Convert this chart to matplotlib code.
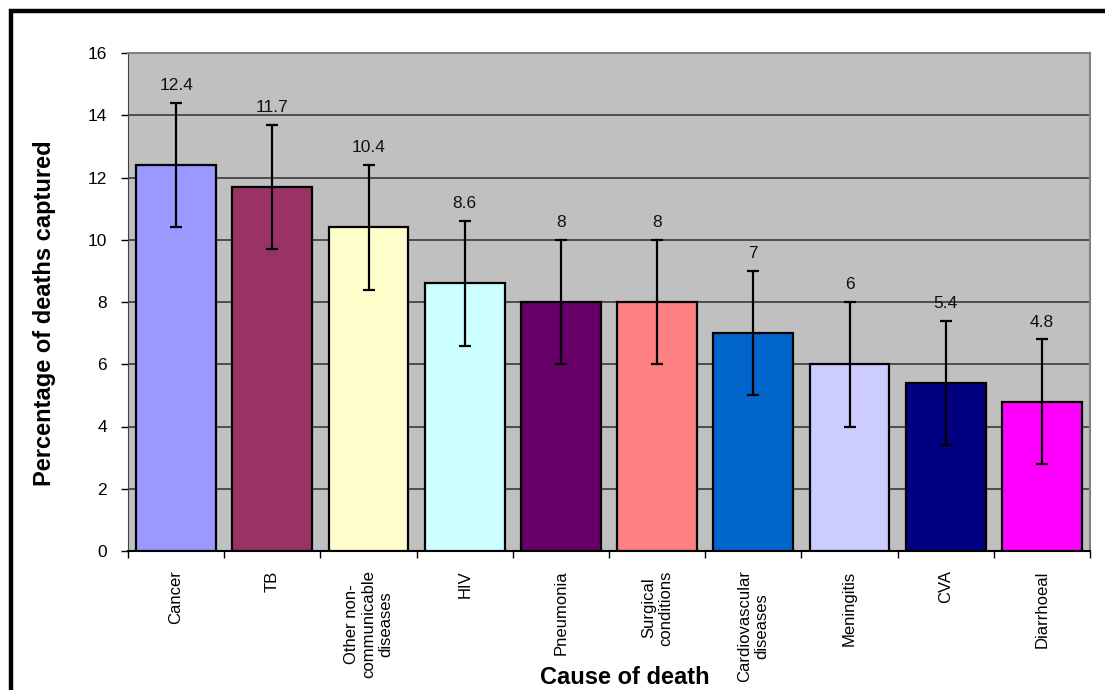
import matplotlib
matplotlib.use('Agg')
import matplotlib.pyplot as plt
from matplotlib.patches import Rectangle

plt.rcParams['font.family'] = ['Liberation Sans', 'DejaVu Sans']

causes = ['Cancer', 'TB', 'Other non-\ncommunicable\ndiseases', 'HIV', 'Pneumonia',
          'Surgical\nconditions', 'Cardiovascular\ndiseases', 'Meningitis', 'CVA', 'Diarrhoeal']
percent = [12.4, 11.7, 10.4, 8.6, 8, 8, 7, 6, 5.4, 4.8]
err = [2, 2, 2, 2, 2, 2, 2, 2, 2, 2]
colors = ['#9999FF', '#993366', '#FFFFCC', '#CCFFFF', '#660066',
          '#FF8080', '#0066CC', '#CCCCFF', '#000080', '#FF00FF']

fig = plt.figure(figsize=(11.05, 6.9), dpi=100)
ax = fig.add_axes([128/1105, 1-551/690, (1090-128)/1105, (551-53)/690])
ax.set_facecolor('#C0C0C0')

x = list(range(len(causes)))
ax.bar(x, percent, width=0.83, color=colors, edgecolor='black', linewidth=1.6, zorder=3)
ax.errorbar(x, percent, yerr=err, fmt='none', ecolor='black', elinewidth=1.6,
            capsize=4.5, capthick=1.6, zorder=4)

for xi, v, e in zip(x, percent, err):
    ax.annotate(f'{v:g}', (xi, v + e), xytext=(0, 7), textcoords='offset points',
                ha='center', va='bottom', fontsize=12.5, color='#111111')

ax.set_xlim(-0.5, len(causes) - 0.5)
ax.set_ylim(0, 16)
ax.set_yticks(range(0, 17, 2))
ax.yaxis.grid(True, color='#3a3a3a', linewidth=1.2, zorder=0)
ax.set_axisbelow(True)

ax.set_xticks(x)
ax.set_xticklabels(causes, rotation=90, fontsize=12, ha='center', va='top',
                   multialignment='center')
ax.set_xticks([i - 0.5 for i in range(len(causes) + 1)], minor=True)
ax.tick_params(axis='x', which='major', length=0, pad=14)
ax.tick_params(axis='x', which='minor', length=5, width=1, color='black', direction='out')
ax.tick_params(axis='y', length=5, width=1, color='black', pad=10, labelsize=12.5)

for s in ['top', 'right']:
    ax.spines[s].set_color('#808080')
    ax.spines[s].set_linewidth(1.5)
ax.spines['left'].set_color('#404040')
ax.spines['bottom'].set_color('black')
ax.spines['bottom'].set_linewidth(1.5)

fig.text(45/1105, 1-313/690, 'Percentage of deaths captured', rotation=90,
         ha='center', va='center', fontsize=17, fontweight='bold')
fig.text(625/1105, 1/690, 'Cause of death', ha='center', va='bottom',
         fontsize=17, fontweight='bold')

# outer frame
fig.patches.append(Rectangle((11/1105, -0.1), 1.2, 1 - 11/690 + 0.1,
                             transform=fig.transFigure, fill=False,
                             edgecolor='black', linewidth=3.2, clip_on=False))

fig.savefig('out.png', dpi=100)
